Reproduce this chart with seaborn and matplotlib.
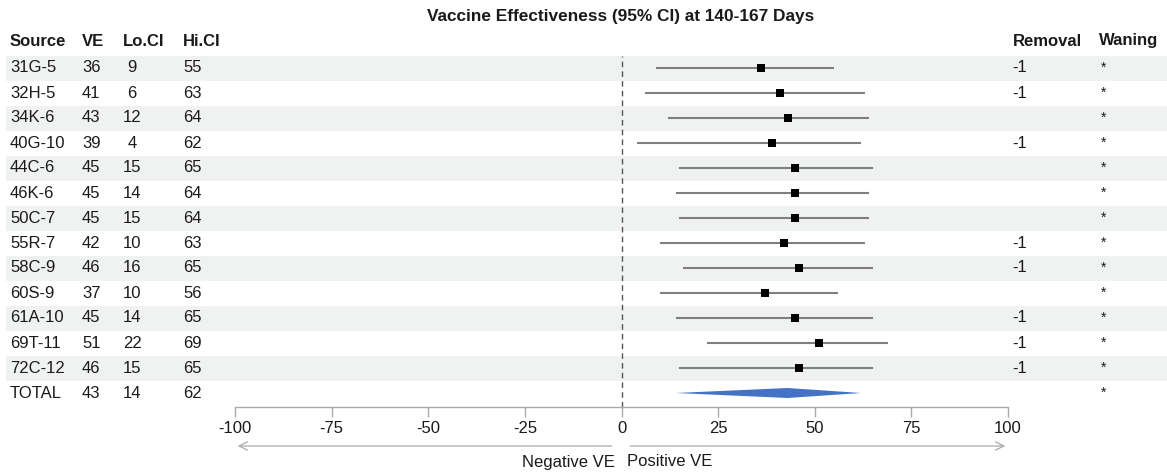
import numpy as np
import pandas as pd
import matplotlib
matplotlib.use("Agg")
import matplotlib.pyplot as plt
from matplotlib.patches import Polygon
import seaborn as sns

sources = ["31G-5", "32H-5", "34K-6", "40G-10", "44C-6", "46K-6", "50C-7",
           "55R-7", "58C-9", "60S-9", "61A-10", "69T-11", "72C-12", "TOTAL"]
ve = [36, 41, 43, 39, 45, 45, 45, 42, 46, 37, 45, 51, 46, 43]
lo_ci = [9, 6, 12, 4, 15, 14, 15, 10, 16, 10, 14, 22, 15, 14]
hi_ci = [55, 63, 64, 62, 65, 64, 64, 63, 65, 56, 65, 69, 65, 62]
removal = ["-1", "-1", "", "-1", "", "", "", "-1", "-1", "", "-1", "-1", "-1", ""]
waning = ["*"] * 14
x_ticks = [-100, -75, -50, -25, 0, 25, 50, 75, 100]
title = "Vaccine Effectiveness (95% CI) at 140-167 Days"

sns.set_theme(style="white")
plt.rcParams["font.family"] = ["Liberation Sans", "DejaVu Sans"]

df = pd.DataFrame({"source": sources, "ve": ve, "lo": lo_ci, "hi": hi_ci,
                   "removal": removal, "waning": waning})
df["row"] = np.arange(len(df))
studies = df[df["source"] != "TOTAL"]
total = df[df["source"] == "TOTAL"].iloc[0]

W, H = 1167, 472
fig = plt.figure(figsize=(W / 100, H / 100), dpi=100)

# background axes in "row" units vertically, pixel units horizontally
row0_px, row_h = 68, 25
bg = fig.add_axes([0, 0, 1, 1])
bg.set_xlim(0, W)
bg.set_ylim((H - row0_px) / row_h, -row0_px / row_h)
bg.axis("off")
for r in df["row"]:
    if r % 2 == 0:
        bg.axhspan(r - 0.5, r + 0.5, xmin=6 / W, xmax=1, color="#EFF2F1", lw=0, zorder=0)

fs = 12
txt = "#1a1a1a"
hdr_y = -1.08
for lab, x in [("Source", 10), ("VE", 82), ("Lo.CI", 123), ("Hi.CI", 183),
               ("Removal", 1013), ("Waning", 1099)]:
    bg.text(x, hdr_y, lab, ha="left", va="center", fontsize=fs, fontweight="bold", color=txt)
bg.text(621, -2.04, title, ha="center", va="center", fontsize=12.4, fontweight="bold", color=txt)

for _, r in df.iterrows():
    y = r["row"]
    bg.text(10, y, r["source"], ha="left", va="center", fontsize=fs, color=txt)
    bg.text(82, y, str(r["ve"]), ha="left", va="center", fontsize=fs, color=txt)
    bg.text(132, y, str(r["lo"]), ha="center", va="center", fontsize=fs, color=txt)
    bg.text(183, y, str(r["hi"]), ha="left", va="center", fontsize=fs, color=txt)
    if r["removal"]:
        bg.text(1012, y, r["removal"], ha="left", va="center", fontsize=fs, color=txt)
    bg.text(1104, y, r["waning"], ha="center", va="center", fontsize=10, color=txt)

# forest axes
left_px, right_px, top_px, bot_px = 235, 1008, 56, 407
ax = fig.add_axes([left_px / W, (H - bot_px) / H, (right_px - left_px) / W, (bot_px - top_px) / H])
ax.patch.set_alpha(0)
ax.set_xlim(-100, 100)
ax.set_ylim((bot_px - row0_px) / row_h, (top_px - row0_px) / row_h)

ax.axvline(0, color="#555555", lw=1, ls=(0, (4, 3)), zorder=1)
ax.hlines(studies["row"], studies["lo"], studies["hi"], color="#7f7f7f", lw=1.5, zorder=2)
sns.scatterplot(data=studies, x="ve", y="row", marker="s", s=30, color="black",
                edgecolor="black", linewidth=0, ax=ax, zorder=3, legend=False)
dh = 0.2
diamond = Polygon([(total["lo"], total["row"]), (total["ve"], total["row"] - dh),
                   (total["hi"], total["row"]), (total["ve"], total["row"] + dh)],
                  closed=True, facecolor="#4472C4", edgecolor="none", zorder=3)
ax.add_patch(diamond)

for s in ["top", "right", "left"]:
    ax.spines[s].set_visible(False)
ax.spines["bottom"].set_color("#aaaaaa")
ax.spines["bottom"].set_linewidth(1)
ax.set_xticks(x_ticks)
ax.set_xticklabels([str(t) for t in x_ticks])
ax.tick_params(axis="x", bottom=True, length=7, width=1, color="#aaaaaa",
               labelsize=fs, labelcolor=txt, pad=3)
ax.set_yticks([])
ax.set_xlabel("")
ax.set_ylabel("")

arrow_y = (bot_px - 446) / (bot_px - top_px)
arrow_kw = dict(arrowstyle="->,head_length=0.5,head_width=0.25", color="#aaaaaa", lw=0.9)
ax.annotate("", xy=(-100, arrow_y), xytext=(-1.8, arrow_y),
            xycoords=("data", "axes fraction"), textcoords=("data", "axes fraction"),
            arrowprops=arrow_kw, annotation_clip=False)
ax.annotate("", xy=(100, arrow_y), xytext=(1.5, arrow_y),
            xycoords=("data", "axes fraction"), textcoords=("data", "axes fraction"),
            arrowprops=arrow_kw, annotation_clip=False)
lab_y = (bot_px - 462) / (bot_px - top_px)
ax.text(-1.6, lab_y, "Negative VE", ha="right", va="center", fontsize=fs, color=txt,
        transform=ax.get_xaxis_transform())
ax.text(1.3, lab_y, "Positive VE", ha="left", va="center", fontsize=fs, color=txt,
        transform=ax.get_xaxis_transform())

fig.savefig("out.png", dpi=100)
